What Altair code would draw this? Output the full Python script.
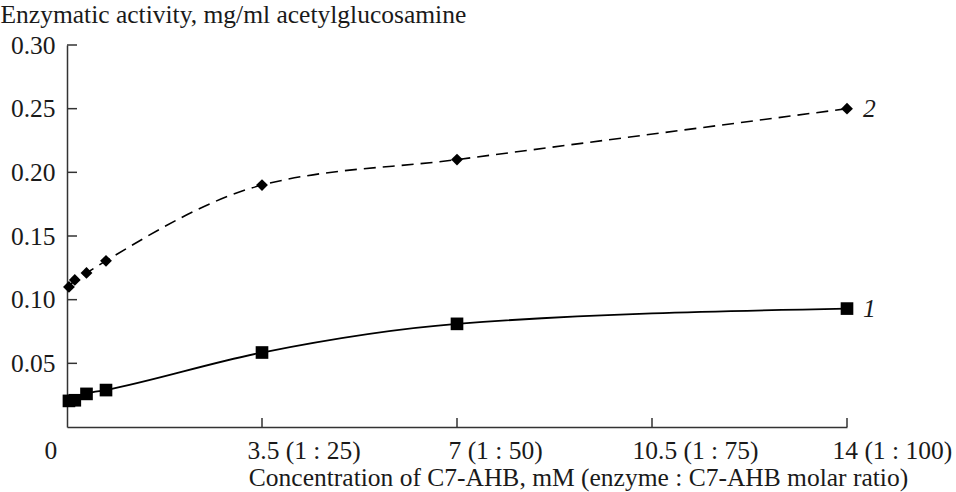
import altair as alt
import pandas as pd

# ---- data ----
conc = [0.035, 0.14, 0.35, 0.7, 3.5, 7, 14]
activity_1 = [0.0205, 0.021, 0.026, 0.029, 0.0585, 0.081, 0.093]
activity_2 = [0.110, 0.1155, 0.121, 0.1305, 0.190, 0.210, 0.250]
series_names = ["1", "2"]

x_ticks = [0, 3.5, 7, 10.5, 14]
x_tick_labels = ["0", "3.5 (1 : 25)", "7 (1 : 50)", "10.5 (1 : 75)", "14 (1 : 100)"]
y_ticks = [0.05, 0.10, 0.15, 0.20, 0.25, 0.30]

y_title = "Enzymatic activity, mg/ml acetylglucosamine"
x_title = "Concentration of C7-AHB, mM (enzyme : C7-AHB molar ratio)"

rows = []
for name, vals in zip(series_names, [activity_1, activity_2]):
    for c, v in zip(conc, vals):
        rows.append({"series": name, "conc": c, "activity": v})
df = pd.DataFrame(rows)

ytick_df = pd.DataFrame({"activity": y_ticks})
xtick_df = pd.DataFrame({"conc": [v for v in x_ticks if v > 0]})

FONT = "Liberation Serif"
INK = "#1a1a1a"
AXIS_INK = "#333333"

label_expr = " : ".join(
    f"datum.value == {v} ? '{t}'" for v, t in zip(x_ticks, x_tick_labels)
) + " : ''"

x_axis = alt.Axis(
    values=x_ticks,
    labelExpr=label_expr,
    title=x_title,
    titleFont=FONT, titleFontSize=25.5, titleFontWeight="normal", titleColor=INK,
    titleAlign="center", titleBaseline="alphabetic", titleX=511, titleY=58,
    titleAnchor="start",
    labelFont=FONT, labelFontSize=25.5, labelColor=INK,
    labelAlign="left", labelBaseline="alphabetic", labelPadding=31,
    labelOffset={"condition": [
        {"test": "datum.value == 0", "value": -23},
        {"test": "datum.value == 7", "value": -9},
        {"test": "datum.value == 10.5", "value": -20},
    ], "value": -15},
    labelFlush=False, labelOverlap=False,
    domainColor=AXIS_INK, domainWidth=1.5,
    ticks=False,
    grid=False,
)

y_axis = alt.Axis(
    values=y_ticks,
    format=".2f",
    title=y_title,
    titleFont=FONT, titleFontSize=25.5, titleFontWeight="normal", titleColor=INK,
    titleAngle=0, titleAlign="left", titleBaseline="alphabetic",
    titleX=-67, titleY=-23, titleAnchor="start",
    labelFont=FONT, labelFontSize=25.5, labelColor=INK,
    labelAlign="right", labelBaseline="middle", labelPadding=12,
    labelFlush=False, labelOverlap=False,
    domainColor=AXIS_INK, domainWidth=1.5,
    ticks=False,
    grid=False,
)

x_enc = alt.X("conc:Q", scale=alt.Scale(domain=[0, 14], nice=False), axis=x_axis)
y_enc = alt.Y("activity:Q", scale=alt.Scale(domain=[0, 0.30], nice=False), axis=y_axis)

base = alt.Chart(df).encode(x=x_enc, y=y_enc)

# inward-pointing tick marks
yticks = alt.Chart(ytick_df).mark_rule(color=AXIS_INK, strokeWidth=1.5).encode(
    y=y_enc, x=alt.value(0), x2=alt.value(10)
)
xticks = alt.Chart(xtick_df).mark_rule(color=AXIS_INK, strokeWidth=1.5).encode(
    x=x_enc, y=alt.value(373), y2=alt.value(382)
)

line1 = base.transform_filter("datum.series == '1'").mark_line(
    color="black", strokeWidth=1.8, interpolate="monotone"
)
line2 = base.transform_filter("datum.series == '2'").mark_line(
    color="black", strokeWidth=1.6, strokeDash=[12, 7], interpolate="monotone"
)
pts1 = base.transform_filter("datum.series == '1'").mark_point(
    shape="square", filled=True, color="black", size=160, opacity=1
)
pts2 = base.transform_filter("datum.series == '2'").mark_point(
    shape="diamond", filled=True, color="black", size=140, opacity=1
)
labels = base.transform_filter("datum.conc == 14").mark_text(
    font=FONT, fontSize=25.5, fontStyle="italic", color=INK,
    align="left", baseline="middle", dx=16,
).encode(text="series:N")

chart = alt.layer(yticks, xticks, line1, line2, pts1, pts2, labels).properties(
    width=780, height=382,
    autosize="none",
    padding={"left": 67, "top": 45, "right": 109, "bottom": 65},
    background="white",
).configure_view(stroke=None)

chart.save("out.html", embed_options={"renderer": "svg", "actions": False})
